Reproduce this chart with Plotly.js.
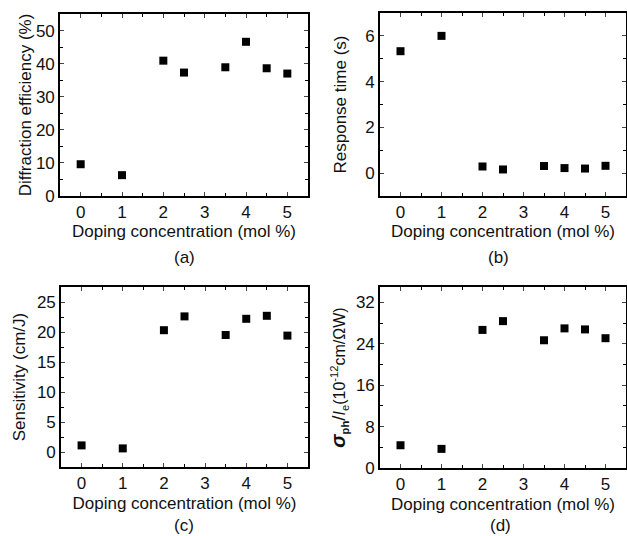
<!DOCTYPE html>
<html>
<head>
<meta charset="utf-8">
<script src="https://cdn.plot.ly/plotly-3.0.1.min.js"></script>
<style>html,body{margin:0;padding:0;background:#fff;}#chart{width:627px;height:536px;}</style>
</head>
<body>
<div id="chart"></div>
<script>
const doping = [0, 1, 2, 2.5, 3.5, 4, 4.5, 5];
const diffractionEfficiency = [9.6, 6.3, 40.9, 37.3, 38.9, 46.6, 38.6, 37.0];
const responseTime = [5.33, 6.0, 0.29, 0.16, 0.31, 0.22, 0.2, 0.32];
const sensitivity = [1.1, 0.6, 20.3, 22.6, 19.5, 22.2, 22.7, 19.4];
const photoConductivity = [4.4, 3.7, 26.7, 28.4, 24.7, 27.0, 26.8, 25.1];
const xTickVals = [0, 1, 2, 3, 4, 5];
const panelLabels = ['(a)', '(b)', '(c)', '(d)'];
const xTitle = 'Doping concentration (mol %)';

const FONT = 'Liberation Sans, Arial, sans-serif';
const marker = {symbol: 'square', size: 8, color: '#000'};

function tr(y, xa, ya) {
  return {x: doping, y: y, type: 'scatter', mode: 'markers', marker: marker,
          xaxis: xa, yaxis: ya, showlegend: false, cliponaxis: false};
}
const data = [
  tr(diffractionEfficiency, 'x', 'y'),
  tr(responseTime, 'x2', 'y2'),
  tr(sensitivity, 'x3', 'y3'),
  tr(photoConductivity, 'x4', 'y4')
];

function xax(domain, anchor, standoff) {
  return {domain: domain, anchor: anchor, range: [-0.5, 5.5], tickvals: xTickVals,
    ticks: 'inside', ticklen: 4, tickwidth: 1, mirror: 'ticks', showline: true, linewidth: 1.8,
    linecolor: '#000', showgrid: false, zeroline: false,
    minor: {dtick: 0.5, tick0: 0, ticks: 'inside', ticklen: 3, tickwidth: 1, tickcolor: '#000'},
    tickfont: {family: FONT, size: 17, color: '#111'},
    title: {text: xTitle, font: {family: FONT, size: 17, color: '#111'}, standoff: standoff}};
}
function yax(domain, anchor, range, dtick, minorDtick, title, standoff, tsize) {
  return {domain: domain, anchor: anchor, range: range, dtick: dtick, tick0: 0,
    ticks: 'inside', ticklen: 4, tickwidth: 1, mirror: 'ticks', showline: true, linewidth: 1.8,
    linecolor: '#000', showgrid: false, zeroline: false,
    minor: {dtick: minorDtick, tick0: 0, ticks: 'inside', ticklen: 3, tickwidth: 1, tickcolor: '#000'},
    tickfont: {family: FONT, size: 17, color: '#111'},
    title: {text: title, font: {family: FONT, size: tsize || 17, color: '#111'}, standoff: standoff}};
}

const W = 627, H = 536;
const px = (a, b) => [a / W, b / W];
const py = (top, bottom) => [1 - bottom / H, 1 - top / H];

const sigmaTitle = '<span style="font-size:20px"><b><i>σ</i></b></span><b><sub>ph</sub></b>' +
  '<span style="font-size:19px">/</span><i>I</i><sub>e</sub>(10<sup>-12</sup>cm/ΩW)';

const ann = (text, x, y) => ({text: text, x: x / W, y: 1 - y / H, xref: 'paper', yref: 'paper',
  showarrow: false, xanchor: 'center', yanchor: 'middle',
  font: {family: FONT, size: 17, color: '#111'}});

const layout = {
  width: W, height: H,
  margin: {l: 0, r: 0, t: 0, b: 0},
  paper_bgcolor: '#fff', plot_bgcolor: '#fff',
  font: {family: FONT, color: '#111'},
  xaxis: xax(px(60, 308), 'y', 4),
  yaxis: yax(py(14, 196), 'x', [0, 55], 10, 5, 'Diffraction efficiency (%)', 0),
  xaxis2: xax(px(380, 626), 'y2', 4),
  yaxis2: yax(py(13, 196), 'x2', [-1, 7], 2, 1, 'Response time (s)', 14),
  xaxis3: xax(px(61, 308), 'y3', 5),
  yaxis3: yax(py(287, 467), 'x3', [-2.5, 27.5], 5, 2.5, 'Sensitivity (cm/J)', 7),
  xaxis4: xax(px(380, 626), 'y4', 5),
  yaxis4: yax(py(287, 468), 'x4', [0, 35], 8, 4, sigmaTitle, 6, 16),
  annotations: [
    ann(panelLabels[0], 184, 257),
    ann(panelLabels[1], 498, 257),
    ann(panelLabels[2], 184, 525),
    ann(panelLabels[3], 500, 525)
  ]
};

Plotly.newPlot('chart', data, layout, {displayModeBar: false, staticPlot: true});
</script>
</body>
</html>
